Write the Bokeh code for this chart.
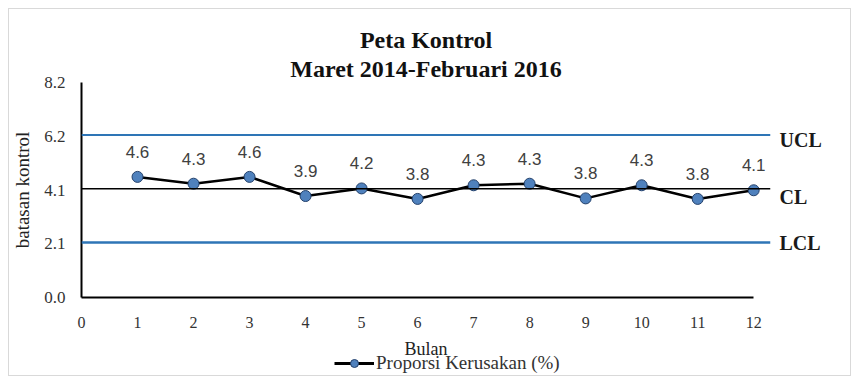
from bokeh.plotting import figure
from bokeh.layouts import column
from bokeh.models import (ColumnDataSource, Span, LabelSet, FixedTicker,
                          Legend, LegendItem, LinearAxis, Title, Range1d)
from bokeh.core.properties import value
from bokeh.embed import file_html
from bokeh.resources import INLINE

# ---- data ----
bulan = [1, 2, 3, 4, 5, 6, 7, 8, 9, 10, 11, 12]
proporsi = [4.60, 4.34, 4.60, 3.87, 4.16, 3.76, 4.28, 4.34, 3.78, 4.28, 3.76, 4.09]
nilai_label = ["4.6", "4.3", "4.6", "3.9", "4.2", "3.8", "4.3", "4.3", "3.8", "4.3", "3.8", "4.1"]
ucl = 6.2
cl = 4.15
lcl = 2.1
batas_label = ["UCL", "CL", "LCL"]
y_ticks = [0, 2.05, 4.1, 6.15, 8.2]
y_tick_labels = ["0.0", "2.1", "4.1", "6.2", "8.2"]
x_ticks = [0, 1, 2, 3, 4, 5, 6, 7, 8, 9, 10, 11, 12]
judul1 = "Peta Kontrol"
judul2 = "Maret 2014-Februari 2016"
series_name = "Proporsi Kerusakan (%)"

SERIF = "Liberation Serif"
SANS = "Liberation Sans"
BLUE_FILL = "#4f81bd"
BLUE_EDGE = "#24416b"

p = figure(frame_width=689, frame_height=215, x_range=(0, 12.3), y_range=(0, 8.2),
           output_backend="svg", toolbar_location=None,
           min_border_left=71, min_border_right=80, min_border_top=73, min_border_bottom=0)
p.outline_line_color = None
p.xgrid.grid_line_color = None
p.ygrid.grid_line_color = None
p.background_fill_color = "white"
p.border_fill_color = "white"

# titles (first added sits closest to the frame)
for txt, so in [(judul2, 2), (judul1, 0)]:
    p.add_layout(Title(text=txt, align="center", standoff=so, text_font=SERIF,
                       text_font_size="24px", text_font_style="bold",
                       text_color="#111111"), "above")

# axes
p.xaxis.ticker = FixedTicker(ticks=x_ticks)
p.xaxis.bounds = (0, 12)
p.xaxis.axis_line_color = "black"
p.xaxis.axis_line_width = 2
p.xaxis.major_tick_line_color = None
p.xaxis.minor_tick_line_color = None
p.xaxis.major_tick_out = 0
p.xaxis.major_label_standoff = 19
p.xaxis.major_label_text_font = SERIF
p.xaxis.major_label_text_font_size = "16px"
p.xaxis.major_label_text_color = "#333333"
p.xaxis.axis_label = "Bulan"
p.xaxis.axis_label_text_font = SERIF
p.xaxis.axis_label_text_font_size = "18px"
p.xaxis.axis_label_text_font_style = "normal"
p.xaxis.axis_label_text_color = "#222222"
p.xaxis.axis_label_standoff = 8

p.yaxis.ticker = FixedTicker(ticks=y_ticks)
p.yaxis.major_label_overrides = {t: l for t, l in zip(y_ticks, y_tick_labels)}
p.yaxis.axis_line_color = "black"
p.yaxis.axis_line_width = 2
p.yaxis.major_tick_line_color = None
p.yaxis.minor_tick_line_color = None
p.yaxis.major_tick_out = 0
p.yaxis.major_label_standoff = 16
p.yaxis.major_label_text_font = SERIF
p.yaxis.major_label_text_font_size = "17px"
p.yaxis.major_label_text_color = "#333333"
p.yaxis.axis_label = "batasan kontrol"
p.yaxis.axis_label_text_font = SERIF
p.yaxis.axis_label_text_font_size = "19px"
p.yaxis.axis_label_text_font_style = "normal"
p.yaxis.axis_label_text_color = "#222222"
p.yaxis.axis_label_standoff = 8

# right-side axis carrying the UCL / CL / LCL names (slightly below each line, as in the reference)
label_pos = [ucl - 0.2, cl - 0.3, lcl - 0.04]
right = LinearAxis(ticker=FixedTicker(ticks=label_pos),
                   major_label_overrides={t: l for t, l in zip(label_pos, batas_label)})
right.axis_line_color = None
right.major_tick_line_color = None
right.minor_tick_line_color = None
right.major_tick_out = 0
right.major_label_standoff = 9
right.major_label_text_font = SERIF
right.major_label_text_font_size = "20px"
right.major_label_text_font_style = "bold"
right.major_label_text_color = "#1a1a1a"
p.add_layout(right, "right")

# control lines
p.add_layout(Span(location=ucl, dimension="width", line_color="#2e75b6", line_width=2))
p.add_layout(Span(location=cl, dimension="width", line_color="black", line_width=1.5))
p.add_layout(Span(location=lcl, dimension="width", line_color="#2e75b6", line_width=2.5))

src = ColumnDataSource(dict(x=bulan, y=proporsi, t=nilai_label))
p.line("x", "y", source=src, line_color="black", line_width=2.5)
p.scatter("x", "y", source=src, size=11, fill_color=BLUE_FILL,
          line_color=BLUE_EDGE, line_width=1)

p.add_layout(LabelSet(x="x", y="y", text="t", source=src, text_align="center",
                      text_baseline="bottom", y_offset=19, text_font=value(SANS),
                      text_font_size="17px", text_color="#404040"))

# ---- legend strip below the chart (transparent, slightly overlapping the axis title) ----
# its ranges exclude the data, so the series itself is not drawn here; it only feeds the legend
leg = figure(width=840, height=24, x_range=Range1d(0, 12.3), y_range=Range1d(-2, -1),
             output_backend="svg", toolbar_location=None,
             x_axis_location=None, y_axis_location=None,
             min_border=0, min_border_left=0, min_border_right=0,
             min_border_top=0, min_border_bottom=0)
leg.outline_line_color = None
leg.xgrid.visible = False
leg.ygrid.visible = False
leg.background_fill_color = None
leg.border_fill_color = None
leg.styles = {"margin-top": "-10px"}
l2 = leg.line("x", "y", source=src, line_color="black", line_width=3)
s2 = leg.scatter("x", "y", source=src, size=11, fill_color=BLUE_FILL,
                 line_color=BLUE_EDGE, line_width=1)
legend = Legend(items=[LegendItem(label=series_name, renderers=[l2, s2])],
                location=(253, 1), orientation="horizontal", padding=0, margin=0,
                border_line_color=None, background_fill_alpha=0,
                glyph_width=40, glyph_height=20, label_height=20, label_standoff=2,
                label_text_font=SERIF, label_text_font_size="19px",
                label_text_color="#333333")
leg.add_layout(legend)

page = column(p, leg, spacing=0)
page.styles = {"border": "1px solid #d9d9d9", "margin-left": "8px", "margin-top": "8px"}

open("out.html", "w").write(file_html(page, INLINE))
